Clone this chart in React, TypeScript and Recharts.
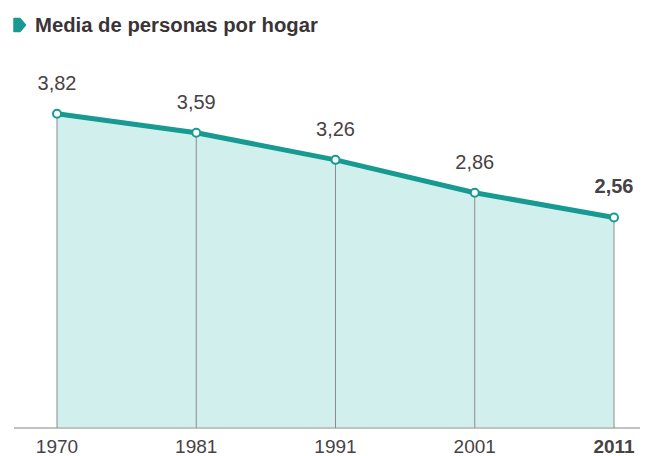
import React from 'react';
import { AreaChart, Area, XAxis, YAxis } from 'recharts';

const years = ['1970', '1981', '1991', '2001', '2011'];
const personas = [3.82, 3.59, 3.26, 2.86, 2.56];

const data = years.map((year, i) => ({ year, personas: personas[i] }));

const W = 648;
const H = 456;
const MARGIN = { top: 99, right: 8, bottom: 0, left: 14 };
const X_AXIS_H = 28;
const BASE_Y = H - MARGIN.bottom - X_AXIS_H;

const TEAL = '#179a92';
const FILL = '#d1efed';
const TEXT = '#474244';
const LAST = years.length - 1;

const fmt = (v: number) => v.toFixed(2).replace('.', ',');

// dot + thin drop line down to the axis
const PointDot = (props: any) => {
  const { cx, cy, index } = props;
  if (cx == null || cy == null) return null;
  return (
    <g key={`dot-${index}`}>
      <line x1={cx} y1={cy + 3} x2={cx} y2={BASE_Y} stroke="#8c8c8c" strokeWidth={1} />
      <circle cx={cx} cy={cy} r={4} fill="#fff" stroke={TEAL} strokeWidth={2} />
    </g>
  );
};

const ValueLabel = (props: any) => {
  const { x, y, value, index } = props;
  return (
    <text
      x={x}
      y={y - 24}
      textAnchor="middle"
      fontSize={20}
      fontWeight={index === LAST ? 700 : 400}
      fill={TEXT}
      fontFamily="'Liberation Sans', Arial, sans-serif"
    >
      {fmt(value)}
    </text>
  );
};

const YearTick = (props: any) => {
  const { x, y, payload, index } = props;
  return (
    <text
      x={x}
      y={y + 17}
      textAnchor="middle"
      fontSize={19}
      fontWeight={index === LAST ? 700 : 400}
      fill={TEXT}
      fontFamily="'Liberation Sans Narrow', 'Arial Narrow', 'Liberation Sans', sans-serif"
    >
      {payload.value}
    </text>
  );
};

export default function App() {
  return (
    <div style={{ position: 'absolute', left: 0, top: 0, width: W, height: H, background: '#fff' }}>
      <svg width={W} height={50} style={{ position: 'absolute', left: 0, top: 0 }}>
        <path d="M14,18.5 L20,18.5 L25.5,25 L20,31.5 L14,31.5 Z" fill={TEAL} stroke={TEAL} strokeWidth={1.5} strokeLinejoin="round" />
        <text x={35} y={32} fontSize={20.3} fontWeight={700} fill="#3b3437" fontFamily="'Liberation Sans', Arial, sans-serif">
          Media de personas por hogar
        </text>
      </svg>
      <div style={{ position: 'absolute', left: 0, top: 0 }}>
        <AreaChart width={W} height={H} data={data} margin={MARGIN}>
          <XAxis
            dataKey="year"
            height={X_AXIS_H}
            padding={{ left: 43, right: 26 }}
            axisLine={{ stroke: '#c2c2c2', strokeWidth: 2 }}
            tickLine={false}
            tick={<YearTick />}
            interval={0}
          />
          <YAxis hide domain={[0, 4]} />
          <Area
            type="linear"
            dataKey="personas"
            stroke={TEAL}
            strokeWidth={5}
            fill={FILL}
            fillOpacity={1}
            dot={<PointDot />}
            activeDot={false}
            label={<ValueLabel />}
            isAnimationActive={false}
          />
        </AreaChart>
      </div>
    </div>
  );
}
